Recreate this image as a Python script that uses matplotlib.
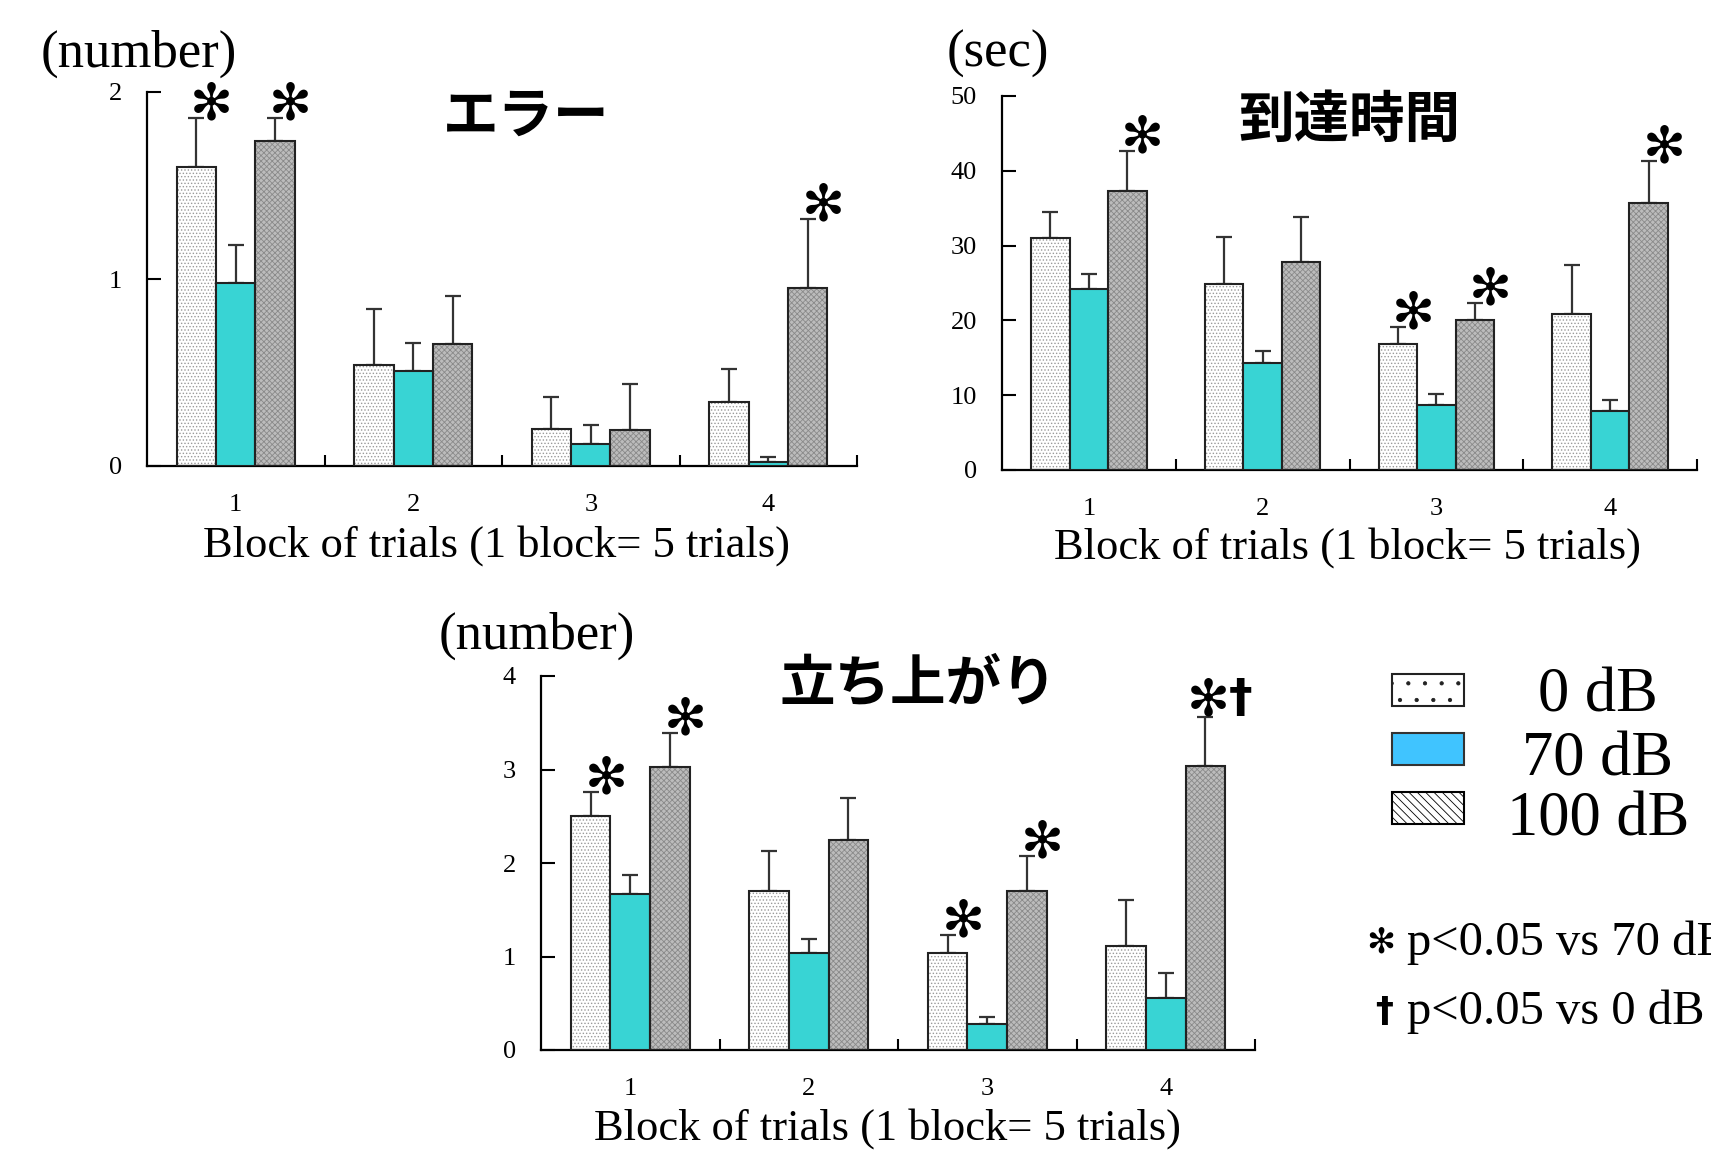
import matplotlib
matplotlib.use('Agg')
import matplotlib.pyplot as plt
import numpy as np
from matplotlib.patches import Rectangle

plt.rcParams['font.family'] = ['Liberation Serif', 'DejaVu Sans']
plt.rcParams['hatch.linewidth'] = 0.6

W, H = 1711, 1152

groups = [1, 2, 3, 4]
conditions = ['0 dB', '70 dB', '100 dB']

# エラー (number)
err_mean_0 = [1.60, 0.54, 0.20, 0.34]
err_se_0 = [0.26, 0.30, 0.17, 0.18]
err_mean_70 = [0.98, 0.51, 0.12, 0.02]
err_se_70 = [0.20, 0.15, 0.10, 0.03]
err_mean_100 = [1.74, 0.65, 0.19, 0.95]
err_se_100 = [0.12, 0.26, 0.25, 0.37]
err_marks = [(0, 0, '✻'), (0, 2, '✻'), (3, 2, '✻')]

# 到達時間 (sec)
time_mean_0 = [31.0, 24.8, 16.8, 20.8]
time_se_0 = [3.5, 6.4, 2.3, 6.6]
time_mean_70 = [24.2, 14.3, 8.7, 7.9]
time_se_70 = [2.0, 1.6, 1.5, 1.4]
time_mean_100 = [37.3, 27.8, 20.0, 35.7]
time_se_100 = [5.3, 6.0, 2.3, 5.6]
time_marks = [(0, 2, '✻'), (2, 0, '✻'), (2, 2, '✻'), (3, 2, '✻')]

# 立ち上がり (number)
rise_mean_0 = [2.50, 1.70, 1.04, 1.11]
rise_se_0 = [0.26, 0.43, 0.19, 0.49]
rise_mean_70 = [1.67, 1.04, 0.28, 0.56]
rise_se_70 = [0.20, 0.15, 0.07, 0.26]
rise_mean_100 = [3.03, 2.25, 1.70, 3.04]
rise_se_100 = [0.36, 0.45, 0.38, 0.52]
rise_marks = [(0, 0, '✻'), (0, 2, '✻'), (2, 0, '✻'), (2, 2, '✻'), (3, 2, '✻†')]


def fx(px):
    return px / W


def fy(py):
    return 1 - py / H


bar_w = 0.222
face = ['white', '#38d4d4', '#bcbcbc']
hatch = ['.....', None, 'xxxxxx']
hatch_col = ['#9a9a9a', None, '#8a8a8a']


def draw_panel(rect, means, ses, marks, yticks, ylabel, title, xlabel, lab_pos, title_pos, xl_pos):
    ax = fig.add_axes(rect)
    x = np.array(groups, dtype=float)
    for i in range(3):
        xs = x + (i - 1) * bar_w
        if hatch[i]:
            ax.bar(xs, means[i], bar_w, color=face[i], hatch=hatch[i],
                   edgecolor=hatch_col[i], linewidth=0, zorder=2)
            ax.bar(xs, means[i], bar_w, color='none', edgecolor='#222222',
                   linewidth=1.5, zorder=3)
        else:
            ax.bar(xs, means[i], bar_w, color=face[i], edgecolor='#222222',
                   linewidth=1.5, zorder=3)
        ax.errorbar(xs, means[i], yerr=[np.zeros(4), ses[i]], fmt='none',
                    ecolor='#333333', elinewidth=1.6, capsize=6, capthick=1.6, zorder=1)
    # significance marks above the error bars
    for g, c, m in marks:
        top = means[c][g] + ses[c][g]
        xs = groups[g] + (c - 1) * bar_w
        if m == '✻':
            ax.annotate(m, xy=(xs, top), xytext=(11, 9), textcoords='offset points',
                        ha='center', va='center', fontsize=37, family='DejaVu Sans',
                        annotation_clip=False)
        else:
            ax.annotate('✻', xy=(xs, top), xytext=(2, 11), textcoords='offset points',
                        ha='center', va='center', fontsize=37, family='DejaVu Sans',
                        annotation_clip=False)
            ax.annotate('†', xy=(xs, top), xytext=(25, 13), textcoords='offset points',
                        ha='center', va='center', fontsize=34, family='DejaVu Sans',
                        weight='bold', annotation_clip=False)
    ax.set_xlim(0.5, 4.5)
    ax.set_ylim(yticks[0], yticks[-1])
    ax.set_yticks(yticks)
    ax.set_xticks(groups)
    ax.set_xticks([1.5, 2.5, 3.5, 4.5], minor=True)
    ax.tick_params(axis='x', which='major', length=0, pad=20, labelsize=19)
    ax.tick_params(axis='x', which='minor', direction='in', length=8, width=1.5)
    ax.tick_params(axis='y', direction='in', length=10, width=1.5, pad=18, labelsize=19)
    for s in ['top', 'right']:
        ax.spines[s].set_visible(False)
    for s in ['left', 'bottom']:
        ax.spines[s].set_linewidth(1.6)
    fig.text(fx(lab_pos[0]), fy(lab_pos[1]), ylabel, fontsize=38, ha='left', va='center')
    fig.text(fx(title_pos[0]), fy(title_pos[1]), title, fontsize=40, ha='center', va='center',
             family=['Noto Sans CJK JP', 'DejaVu Sans'], weight='bold')
    fig.text(fx(xl_pos[0]), fy(xl_pos[1]), xlabel, fontsize=32, ha='center', va='center')
    return ax


fig = plt.figure(figsize=(W / 100, H / 100), dpi=100)

xlabel = 'Block of trials (1 block= 5 trials)'
draw_panel([fx(147), fy(466), (857 - 147) / W, (466 - 92) / H],
           [err_mean_0, err_mean_70, err_mean_100], [err_se_0, err_se_70, err_se_100],
           err_marks, [0, 1, 2], '(number)', 'エラー', xlabel,
           (41, 54), (526, 117), (497, 546))
draw_panel([fx(1002), fy(470), (1697 - 1002) / W, (470 - 96) / H],
           [time_mean_0, time_mean_70, time_mean_100], [time_se_0, time_se_70, time_se_100],
           time_marks, [0, 10, 20, 30, 40, 50], '(sec)', '到達時間', xlabel,
           (947, 54), (1349, 121), (1347, 548))
draw_panel([fx(541), fy(1050), (1255 - 541) / W, (1050 - 676) / H],
           [rise_mean_0, rise_mean_70, rise_mean_100], [rise_se_0, rise_se_70, rise_se_100],
           rise_marks, [0, 1, 2, 3, 4], '(number)', '立ち上がり', xlabel,
           (439, 636), (918, 685), (887, 1129))

# legend boxes and labels
leg_face = ['white', '#40c4ff', 'white']
leg_hatch = ['.', None, '\\\\\\\\']
leg_hcol = ['#222222', '#333333', '#000000']
leg_y = [674, 733, 792]
leg_txt_y = [697, 760, 820]
for i, cond in enumerate(conditions):
    r = Rectangle((fx(1392), fy(leg_y[i] + 32)), 72 / W, 32 / H, transform=fig.transFigure,
                  facecolor=leg_face[i], edgecolor=leg_hcol[i], hatch=leg_hatch[i],
                  linewidth=1.5)
    fig.add_artist(r)
    fig.text(fx(1598), fy(leg_txt_y[i]), cond, fontsize=45, ha='center', va='center')

fig.text(fx(1381), fy(943), '✻', fontsize=25, family='DejaVu Sans', ha='center', va='center')
fig.text(fx(1407), fy(943), 'p<0.05 vs 70 dB', fontsize=35, ha='left', va='center')
fig.text(fx(1384), fy(1012), '†', fontsize=26, family='DejaVu Sans', weight='bold',
         ha='center', va='center')
fig.text(fx(1407), fy(1012), 'p<0.05 vs 0 dB', fontsize=35, ha='left', va='center')

fig.savefig('out.png', dpi=100)
